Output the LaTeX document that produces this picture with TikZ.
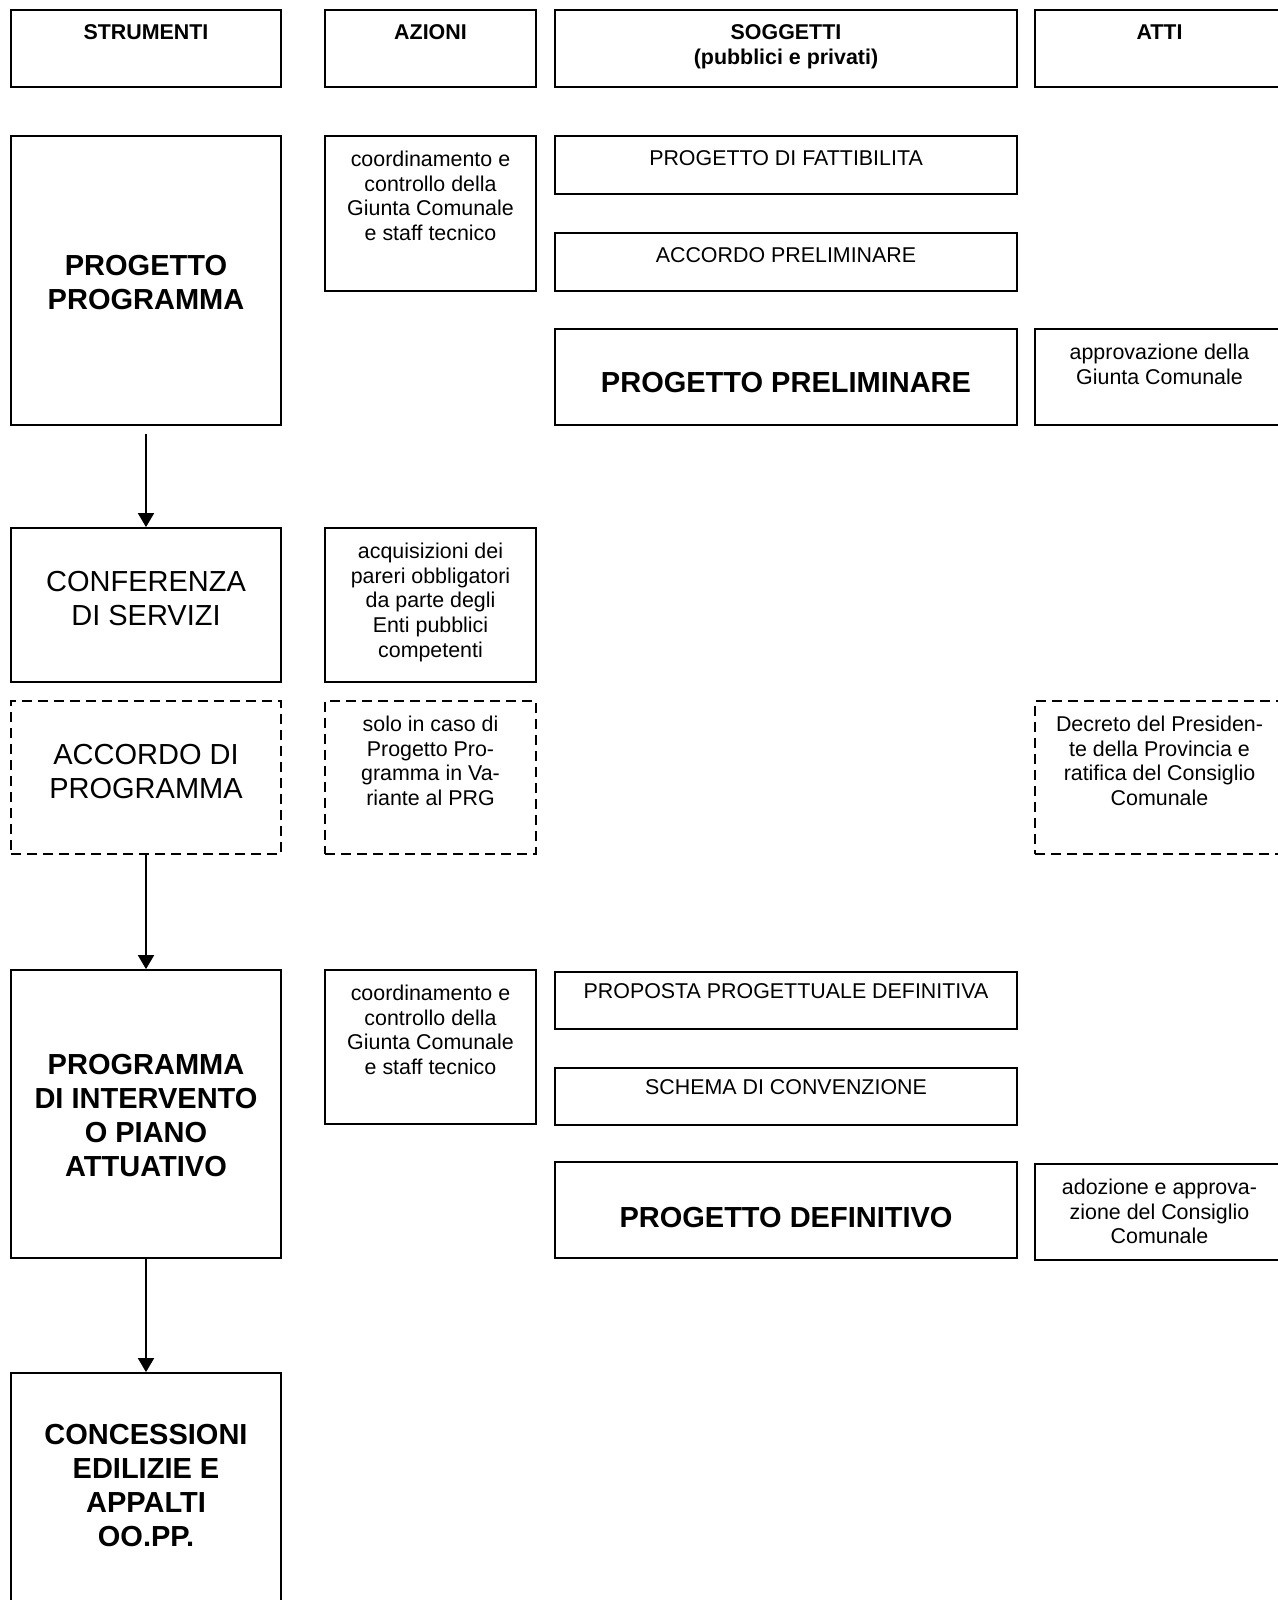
\documentclass[tikz,border=0pt]{standalone}
\usepackage{fontspec}
\setmainfont{Liberation Sans}
\usetikzlibrary{arrows.meta,positioning,fit}

\begin{document}
\begin{tikzpicture}[x=0.5pt, y=-0.5pt,
  box/.style={draw, line width=0.9pt, inner sep=0pt},
  dbox/.style={box, dash pattern=on 5pt off 3pt},
  txt/.style={align=center, inner sep=0pt, font=\fontsize{10.7}{12.4}\selectfont},
  head/.style={txt, font=\fontsize{10.7}{12.4}\selectfont\bfseries},
  big/.style={align=center, inner sep=0pt, font=\fontsize{14.5}{17}\selectfont},
  bigb/.style={big, font=\fontsize{14.5}{17}\selectfont\bfseries},
  arr/.style={-{Triangle[length=7pt, width=8pt]}, line width=0.9pt}]
  \useasboundingbox (0,0) rectangle (1278,1600);
  % column headers
  \node[box, fit={(11,10) (281,87)}] (hstr) {};
  \node[box, fit={(325,10) (536,87)}] (hazi) {};
  \node[box, fit={(555,10) (1017,87)}] (hsog) {};
  \node[box, fit={(1035,10) (1284,87)}] (hatt) {};
  \node[head, below=7.6pt of hstr.north] (tstr) {STRUMENTI};
  \node[head, below=7.6pt of hazi.north] (tazi) {AZIONI};
  \node[head, below=7.6pt of hsog.north] (tsog) {SOGGETTI\\(pubblici e privati)};
  \node[head, below=7.6pt of hatt.north] (tatt) {ATTI};
  % progetto programma
  \node[box, fit={(11,136) (281,425)}] (pp) {};
  \node[bigb] (tpp) at ([yshift=-1pt]pp.center) {PROGETTO\\PROGRAMMA};
  \node[box, fit={(325,136) (536,291)}] (coord1) {};
  \node[txt, below=7.6pt of coord1.north] (tcoord1) {coordinamento e\\controllo della\\Giunta Comunale\\e staff tecnico};
  \node[box, fit={(555,136) (1017,194)}] (fatt) {};
  \node[txt, below=7.6pt of fatt.north] (tfatt) {PROGETTO DI FATTIBILITA};
  \node[box, fit={(555,233) (1017,291)}] (accpre) {};
  \node[txt, below=7.6pt of accpre.north] (taccpre) {ACCORDO PRELIMINARE};
  \node[box, fit={(555,329) (1017,425)}] (prelim) {};
  \node[bigb] (tprelim) at ([yshift=-2.6pt]prelim.center) {PROGETTO PRELIMINARE};
  \node[box, fit={(1035,329) (1284,425)}] (approv) {};
  \node[txt, below=7.6pt of approv.north] (tapprov) {approvazione della\\Giunta Comunale};
  % conferenza di servizi
  \node[box, fit={(11,528) (281,682)}] (conf) {};
  \node[big] (tconf) at ([yshift=3pt]conf.center) {CONFERENZA\\DI SERVIZI};
  \node[box, fit={(325,528) (536,682)}] (acqu) {};
  \node[txt, below=7.6pt of acqu.north] (tacqu) {acquisizioni dei\\pareri obbligatori\\da parte degli\\Enti pubblici\\competenti};
  % accordo di programma
  \node[dbox, fit={(11,701) (281,854)}] (accprog) {};
  \node[big] (taccprog) at ([yshift=3.2pt]accprog.center) {ACCORDO DI\\PROGRAMMA};
  \node[dbox, fit={(325,701) (536,854)}] (solo) {};
  \node[txt, below=7.6pt of solo.north] (tsolo) {solo in caso di\\Progetto Pro-\\gramma in Va-\\riante al PRG};
  \node[dbox, fit={(1035,701) (1284,854)}] (decr) {};
  \node[txt, below=7.6pt of decr.north] (tdecr) {Decreto del Presiden-\\te della Provincia e\\ratifica del Consiglio\\Comunale};
  % programma di intervento
  \node[box, fit={(11,970) (281,1258)}] (progr) {};
  \node[bigb] (tprogr) at ([yshift=-0.8pt]progr.center) {PROGRAMMA\\DI INTERVENTO\\O PIANO\\ATTUATIVO};
  \node[box, fit={(325,970) (536,1124)}] (coord2) {};
  \node[txt, below=7.6pt of coord2.north] (tcoord2) {coordinamento e\\controllo della\\Giunta Comunale\\e staff tecnico};
  \node[box, fit={(555,972) (1017,1029)}] (prop) {};
  \node[txt, below=6pt of prop.north] (tprop) {PROPOSTA PROGETTUALE DEFINITIVA};
  \node[box, fit={(555,1068) (1017,1125)}] (schema) {};
  \node[txt, below=6pt of schema.north] (tschema) {SCHEMA DI CONVENZIONE};
  \node[box, fit={(555,1162) (1017,1258)}] (defin) {};
  \node[bigb] (tdefin) at ([yshift=-3.6pt]defin.center) {PROGETTO DEFINITIVO};
  \node[box, fit={(1035,1164) (1284,1260)}] (adoz) {};
  \node[txt, below=7.6pt of adoz.north] (tadoz) {adozione e approva-\\zione del Consiglio\\Comunale};
  % concessioni
  \node[box, fit={(11,1373) (281,1640)}] (conc) {};
  \node[bigb, below=26pt of conc.north] (tconc) {CONCESSIONI\\EDILIZIE E\\APPALTI\\OO.PP.};
  \draw[arr, shorten <=4pt] (pp) -- (conf);
  \draw[arr] (accprog) -- (progr);
  \draw[arr] (progr) -- (conc);
\end{tikzpicture}
\end{document}
